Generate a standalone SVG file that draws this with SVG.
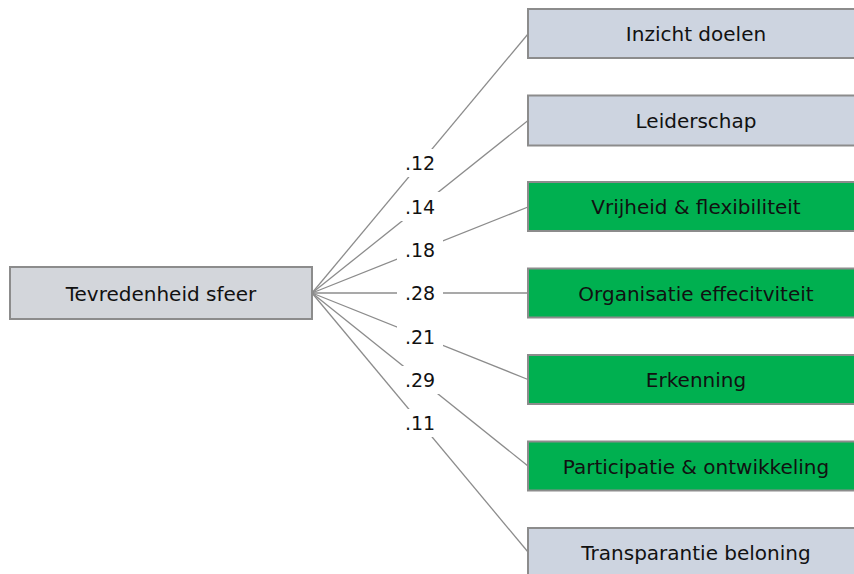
<svg xmlns="http://www.w3.org/2000/svg" width="854" height="574" viewBox="0 0 854 574">
  <style>
    .box { stroke: #8c8c8c; stroke-width: 2; }
    .src { fill: #d3d6db; }
    .grey { fill: #cdd4e0; }
    .green { fill: #00b050; }
    .lbl { font-family: "DejaVu Sans", Verdana, sans-serif; font-size: 20px; fill: #111; text-anchor: middle; }
    .coef { font-family: "DejaVu Sans", Verdana, sans-serif; font-size: 19px; fill: #111; text-anchor: middle; }
    .edge { stroke: #8c8c8c; stroke-width: 1.3; fill: none; }
    .pad { fill: #ffffff; }
  </style>

  <!-- connectors from the source box to each factor -->
  <g id="connectors">
    <line class="edge" x1="312" y1="293" x2="528" y2="34"/>
    <line class="edge" x1="312" y1="293" x2="528" y2="120.5"/>
    <line class="edge" x1="312" y1="293" x2="528" y2="207"/>
    <line class="edge" x1="312" y1="293" x2="528" y2="293"/>
    <line class="edge" x1="312" y1="293" x2="528" y2="379.5"/>
    <line class="edge" x1="312" y1="293" x2="528" y2="466"/>
    <line class="edge" x1="312" y1="293" x2="528" y2="552"/>
  </g>

  <!-- coefficient labels with white backing -->
  <g id="coefficients">
    <rect class="pad" x="397" y="149" width="46" height="28"/>
    <text class="coef" x="420" y="170">.12</text>
    <rect class="pad" x="397" y="192" width="46" height="29"/>
    <text class="coef" x="420" y="213.5">.14</text>
    <rect class="pad" x="397" y="236" width="46" height="28"/>
    <text class="coef" x="420" y="257">.18</text>
    <rect class="pad" x="397" y="279" width="46" height="28"/>
    <text class="coef" x="420" y="300">.28</text>
    <rect class="pad" x="397" y="322" width="46" height="28"/>
    <text class="coef" x="420" y="343.5">.21</text>
    <rect class="pad" x="397" y="366" width="46" height="28"/>
    <text class="coef" x="420" y="387">.29</text>
    <rect class="pad" x="397" y="409" width="46" height="28"/>
    <text class="coef" x="420" y="430">.11</text>
  </g>

  <g id="tevredenheid-sfeer">
    <rect class="box src" x="10" y="267" width="302" height="52"/>
    <text class="lbl" x="161" y="300.5">Tevredenheid sfeer</text>
  </g>

  <g id="inzicht-doelen">
    <rect class="box grey" x="528" y="9" width="336" height="49"/>
    <text class="lbl" x="696" y="41">Inzicht doelen</text>
  </g>

  <g id="leiderschap">
    <rect class="box grey" x="528" y="95.5" width="336" height="50"/>
    <text class="lbl" x="696" y="127.5">Leiderschap</text>
  </g>

  <g id="vrijheid-flexibiliteit">
    <rect class="box green" x="528" y="182" width="336" height="49"/>
    <text class="lbl" x="696" y="214">Vrijheid &amp; flexibiliteit</text>
  </g>

  <g id="organisatie-effectiviteit">
    <rect class="box green" x="528" y="268.5" width="336" height="49"/>
    <text class="lbl" x="696" y="300.5">Organisatie effecitviteit</text>
  </g>

  <g id="erkenning">
    <rect class="box green" x="528" y="355" width="336" height="49"/>
    <text class="lbl" x="696" y="387">Erkenning</text>
  </g>

  <g id="participatie-ontwikkeling">
    <rect class="box green" x="528" y="441.5" width="336" height="49"/>
    <text class="lbl" x="696" y="473.5">Participatie &amp; ontwikkeling</text>
  </g>

  <g id="transparantie-beloning">
    <rect class="box grey" x="528" y="528" width="336" height="49"/>
    <text class="lbl" x="696" y="560">Transparantie beloning</text>
  </g>
</svg>
